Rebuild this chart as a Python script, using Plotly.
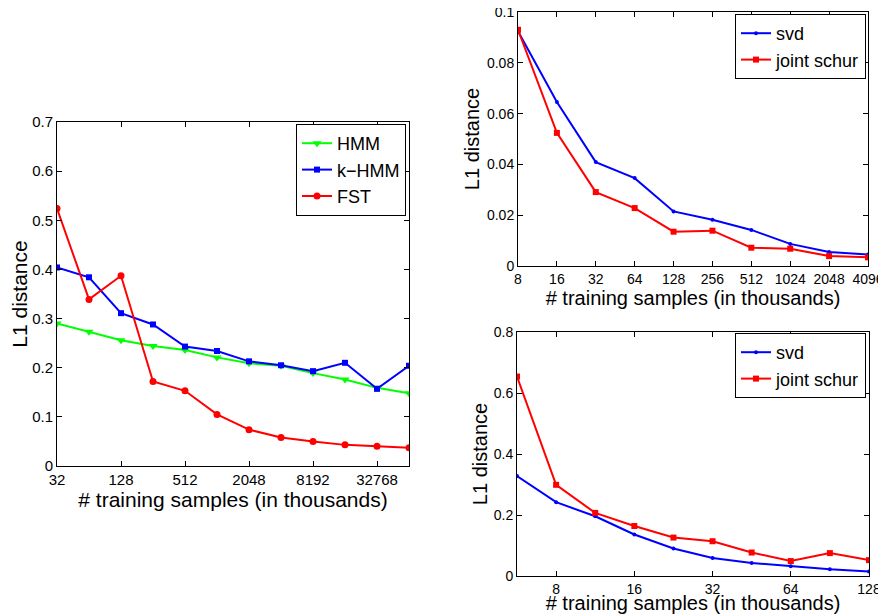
import plotly.graph_objects as go

# ── Data ──────────────────────────────────────────────────────────────────────
# left panel: x = 32 .. 65536 thousand samples (powers of two)
left_x = [32, 64, 128, 256, 512, 1024, 2048, 4096, 8192, 16384, 32768, 65536]
hmm = [0.290, 0.273, 0.256, 0.244, 0.236, 0.221, 0.209, 0.204, 0.189, 0.176, 0.159, 0.148]
k_hmm = [0.404, 0.384, 0.311, 0.288, 0.243, 0.234, 0.213, 0.205, 0.193, 0.210, 0.157, 0.204]
fst = [0.524, 0.339, 0.387, 0.172, 0.153, 0.105, 0.074, 0.058, 0.050, 0.043, 0.040, 0.037]
left_ticks = [32, 128, 512, 2048, 8192, 32768]
left_yticks = [0, 0.1, 0.2, 0.3, 0.4, 0.5, 0.6, 0.7]

# top right panel
tr_x = [8, 16, 32, 64, 128, 256, 512, 1024, 2048, 4096]
tr_svd = [0.0924, 0.0646, 0.0409, 0.0346, 0.0215, 0.0182, 0.0142, 0.0087, 0.0055, 0.0045]
tr_schur = [0.0930, 0.0524, 0.0291, 0.0228, 0.0135, 0.0139, 0.0072, 0.0068, 0.0039, 0.0034]
tr_yticks = [0, 0.02, 0.04, 0.06, 0.08, 0.1]

# bottom right panel (half-octave steps, 4*sqrt(2) .. 128)
br_x = [5.657, 8, 11.31, 16, 22.63, 32, 45.25, 64, 90.51, 128]
br_svd = [0.328, 0.242, 0.196, 0.136, 0.090, 0.059, 0.043, 0.032, 0.022, 0.015]
br_schur = [0.654, 0.299, 0.207, 0.164, 0.126, 0.114, 0.077, 0.049, 0.075, 0.052]
br_ticks = [8, 16, 32, 64, 128]
br_yticks = [0, 0.2, 0.4, 0.6, 0.8]

GREEN, BLUE, RED = "#00ff00", "#0000ff", "#ff0000"
FONT = "Liberation Sans, Arial, sans-serif"
XTITLE = "# training samples (in thousands)"

fig = go.Figure()


def add_line(x, y, name, color, symbol, size, xa, ya, legend):
    fig.add_trace(go.Scatter(
        x=x, y=y, name=name, mode="lines+markers",
        line=dict(color=color, width=2),
        marker=dict(color=color, symbol=symbol, size=size),
        xaxis=xa, yaxis=ya, legend=legend,
    ))


add_line(left_x, hmm, "HMM", GREEN, "triangle-down", 8, "x", "y", "legend")
add_line(left_x, k_hmm, "k\u2212HMM", BLUE, "square", 6, "x", "y", "legend")
add_line(left_x, fst, "FST", RED, "circle", 7, "x", "y", "legend")

add_line(tr_x, tr_svd, "svd", BLUE, "circle", 4, "x2", "y2", "legend2")
add_line(tr_x, tr_schur, "joint schur", RED, "square", 6, "x2", "y2", "legend2")

add_line(br_x, br_svd, "svd", BLUE, "circle", 4, "x3", "y3", "legend3")
add_line(br_x, br_schur, "joint schur", RED, "square", 6, "x3", "y3", "legend3")


def axis_style(tick_size):
    return dict(
        showline=True, linecolor="black", linewidth=1, mirror="ticks",
        ticks="inside", ticklen=5, tickcolor="black", showgrid=False,
        zeroline=False, tickfont=dict(size=tick_size, color="black"),
        automargin=False, ticklabeloverflow="allow",
    )


# the page body adds an 8 px margin, so the figure starts at (8, 8)
OFF = 8
W, H = 886 - OFF, 614 - OFF


def dom_x(a, b):
    return [(a - OFF) / W, (b - OFF) / W]


def dom_y(top, bottom):
    return [1 - (bottom - OFF) / H, 1 - (top - OFF) / H]


def labels(vals):
    return [f"{v:g}" for v in vals]


legend_common = dict(
    bgcolor="white", bordercolor="black", borderwidth=1,
    font=dict(size=18, color="black", family=FONT),
    xanchor="right", yanchor="top", tracegroupgap=0,
    itemwidth=30,
)

fig.update_layout(
    width=W, height=H,
    paper_bgcolor="white", plot_bgcolor="white",
    font=dict(family=FONT, color="black"),
    margin=dict(l=0, r=0, t=0, b=0, autoexpand=False),
    showlegend=True,
    xaxis=dict(
        axis_style(15), type="log", domain=dom_x(57, 409),
        range=[1.50515, 4.81648], tickvals=left_ticks,
        ticktext=labels(left_ticks),
        title=dict(text=XTITLE, font=dict(size=21), standoff=0),
        anchor="y",
    ),
    yaxis=dict(
        axis_style(15), domain=dom_y(122, 466), range=[0, 0.7],
        tickvals=left_yticks, ticktext=labels(left_yticks),
        title=dict(text="L1 distance", font=dict(size=21), standoff=4),
        anchor="x",
    ),
    xaxis2=dict(
        axis_style(14), type="log", domain=dom_x(518, 868),
        range=[0.90309, 3.61236], tickvals=tr_x,
        ticktext=labels(tr_x),
        title=dict(text=XTITLE, font=dict(size=20), standoff=0),
        anchor="y2",
    ),
    yaxis2=dict(
        axis_style(14), domain=dom_y(12, 266), range=[0, 0.1],
        tickvals=tr_yticks, ticktext=labels(tr_yticks),
        title=dict(text="L1 distance", font=dict(size=20), standoff=1),
        anchor="x2",
    ),
    xaxis3=dict(
        axis_style(14), type="log", domain=dom_x(517, 869),
        range=[0.75257, 2.10721], tickvals=br_ticks,
        ticktext=labels(br_ticks),
        title=dict(text=XTITLE, font=dict(size=20), standoff=0),
        anchor="y3",
    ),
    yaxis3=dict(
        axis_style(14), domain=dom_y(332, 576), range=[0, 0.8],
        tickvals=br_yticks, ticktext=labels(br_yticks),
        title=dict(text="L1 distance", font=dict(size=20), standoff=0),
        anchor="x3",
    ),
    legend=dict(legend_common, x=(406 - OFF) / W, y=1 - (124 - OFF) / H),
    legend2=dict(legend_common, x=(866 - OFF) / W, y=1 - (14 - OFF) / H),
    legend3=dict(legend_common, x=(866 - OFF) / W, y=1 - (333 - OFF) / H),
)

fig.write_html("out.html")
